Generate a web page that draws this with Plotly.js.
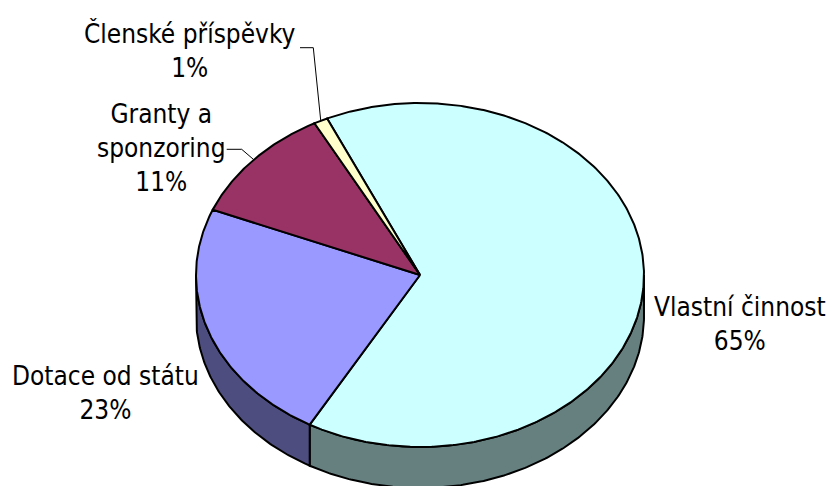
<!DOCTYPE html>
<html>
<head>
<meta charset="utf-8">
<script src="https://cdn.plot.ly/plotly-3.0.1.min.js"></script>
<style>html,body{margin:0;padding:0;background:#fff;}#chart{width:830px;height:486px;}</style>
</head>
<body>
<div id="chart"></div>
<script>
// ---- data ----
const categories = ['Vlastní činnost', 'Dotace od státu', 'Granty a sponzoring', 'Členské příspěvky'];
const values = [65, 23, 11, 1];
const labelText = ['Vlastní činnost', 'Dotace od státu', 'Granty a<br>sponzoring', 'Členské příspěvky'];

// ---- styles / geometry ----
const topColors = ['#CCFFFF', '#9999FF', '#993366', '#FFFFCC'];
const sideColors = ['#668080', '#4D4D80', '#4D1A33', '#808066'];
const G = {cx: 420, cy: 275, rx: 224, ry: 172, depth: 41, start: -24.5};
const FONT = {family: 'DejaVu Sans Condensed, Liberation Sans, sans-serif', size: 26, color: '#000'};
// label anchor positions (text block centre) and leader-line starts
const labelPos = [
  {x: 740, y: 324},
  {x: 105, y: 393},
  {x: 161, y: 148, leader: [226.7, 241.7, 149.3]},
  {x: 190, y: 50, leader: [300, 313.3, 47.7]}
];

const rad = d => d * Math.PI / 180;
function pt(theta, dy) {
  return [G.cx + G.rx * Math.sin(rad(theta)), G.cy - G.ry * Math.cos(rad(theta)) + (dy || 0)];
}
function arc(a, b, dy) {
  const n = Math.max(2, Math.ceil(Math.abs(b - a) / 0.5));
  const out = [];
  for (let i = 0; i <= n; i++) out.push(pt(a + (b - a) * i / n, dy));
  return out;
}

const total = values.reduce((s, v) => s + v, 0);
const slices = [];
let acc = G.start;
values.forEach((v, i) => {
  const span = v / total * 360;
  slices.push({i, a: acc, b: acc + span, mid: acc + span / 2});
  acc += span;
});

const traces = [];
function poly(pts, fill) {
  traces.push({
    type: 'scatter', mode: 'lines', fill: 'toself', fillcolor: fill,
    x: pts.map(p => p[0]), y: pts.map(p => p[1]),
    line: {color: '#000', width: 2}, hoverinfo: 'skip'
  });
}

// side walls (front half: 90..270 deg)
slices.forEach(s => {
  const a = Math.max(s.a, 90), b = Math.min(s.b, 270);
  if (b > a) {
    const top = arc(a, b, 0);
    const bot = arc(b, a, G.depth);
    poly(top.concat(bot, [top[0]]), sideColors[s.i]);
  }
});
// top faces
slices.forEach(s => {
  const c = [G.cx, G.cy];
  poly([c].concat(arc(s.a, s.b, 0), [c]), topColors[s.i]);
});

// leader lines
slices.forEach(s => {
  const lp = labelPos[s.i];
  if (lp.leader) {
    const end = pt(s.mid, 0);
    traces.push({
      type: 'scatter', mode: 'lines',
      x: [lp.leader[0], lp.leader[1], end[0]],
      y: [lp.leader[2], lp.leader[2], end[1]],
      line: {color: '#000', width: 1}, hoverinfo: 'skip'
    });
  }
});

const annotations = slices.map(s => ({
  x: labelPos[s.i].x, y: labelPos[s.i].y, xref: 'x', yref: 'y',
  text: labelText[s.i] + '<br>' + Math.round(values[s.i] / total * 100) + '%',
  showarrow: false, xanchor: 'center', yanchor: 'middle', align: 'center', font: FONT
}));

const layout = {
  width: 830, height: 486,
  margin: {l: 0, r: 0, t: 0, b: 0},
  paper_bgcolor: '#fff', plot_bgcolor: '#fff',
  showlegend: false,
  xaxis: {range: [0, 830], visible: false, fixedrange: true},
  yaxis: {range: [486, 0], visible: false, fixedrange: true},
  annotations
};
Plotly.newPlot('chart', traces, layout, {staticPlot: true, displayModeBar: false});
</script>
</body>
</html>
